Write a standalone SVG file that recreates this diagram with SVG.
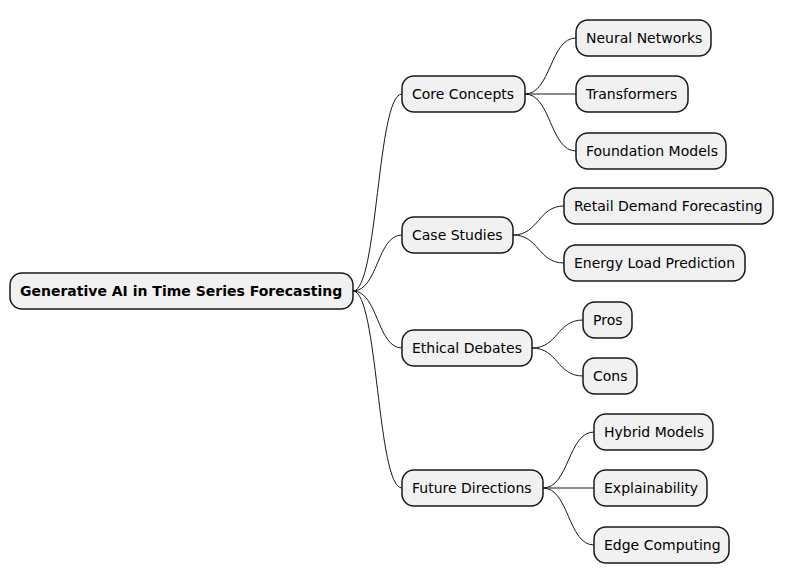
<svg xmlns="http://www.w3.org/2000/svg" width="793" height="582" viewBox="0 0 793 582">
<style>
rect{fill:#F1F1F1;stroke:#181818;stroke-width:1.5}
text{font-family:"DejaVu Sans",sans-serif;font-size:14px;fill:#000}
.b{font-weight:bold}
#c path{fill:none;stroke:#181818;stroke-width:1}
</style>
<rect width="793" height="582" style="fill:#fff;stroke:none"/>
<g id="c">
<path d="M353 291 C378 291 377 94 402 94"/>
<path d="M353 291 C378 291 377 235 402 235"/>
<path d="M353 291 C378 291 377 348 402 348"/>
<path d="M353 291 C378 291 377 488 402 488"/>
<path d="M525 94 C551 94 550 38 576 38"/>
<path d="M525 94 L576 94"/>
<path d="M525 94 C551 94 550 151 576 151"/>
<path d="M513 235 C539 235 538 206 564 206"/>
<path d="M513 235 C539 235 538 263 564 263"/>
<path d="M532 348 C558 348 557 320 583 320"/>
<path d="M532 348 C558 348 557 376 583 376"/>
<path d="M543 488 C569 488 568 432 594 432"/>
<path d="M543 488 L594 488"/>
<path d="M543 488 C569 488 568 545 594 545"/>
</g>
<g id="root"><rect x="10" y="273" width="343" height="36" rx="12"/><text class="b" x="20" y="296">Generative AI in Time Series Forecasting</text></g>
<g id="core"><rect x="402" y="76" width="123" height="36" rx="12"/><text x="412" y="99">Core Concepts</text></g>
<g id="case"><rect x="402" y="217" width="111" height="36" rx="12"/><text x="412" y="240">Case Studies</text></g>
<g id="eth"><rect x="402" y="330" width="130" height="36" rx="12"/><text x="412" y="353">Ethical Debates</text></g>
<g id="fut"><rect x="402" y="470" width="141" height="36" rx="12"/><text x="412" y="493">Future Directions</text></g>
<g id="nn"><rect x="576" y="20" width="135" height="36" rx="12"/><text x="586" y="43">Neural Networks</text></g>
<g id="tr"><rect x="576" y="76" width="112" height="36" rx="12"/><text x="586" y="99">Transformers</text></g>
<g id="fm"><rect x="576" y="133" width="150" height="36" rx="12"/><text x="586" y="156">Foundation Models</text></g>
<g id="rdf"><rect x="564" y="188" width="209" height="36" rx="12"/><text x="574" y="211">Retail Demand Forecasting</text></g>
<g id="elp"><rect x="564" y="245" width="181" height="36" rx="12"/><text x="574" y="268">Energy Load Prediction</text></g>
<g id="pros"><rect x="583" y="302" width="49" height="36" rx="12"/><text x="593" y="325">Pros</text></g>
<g id="cons"><rect x="583" y="358" width="54" height="36" rx="12"/><text x="593" y="381">Cons</text></g>
<g id="hm"><rect x="594" y="414" width="119" height="36" rx="12"/><text x="604" y="437">Hybrid Models</text></g>
<g id="ex"><rect x="594" y="470" width="113" height="36" rx="12"/><text x="604" y="493">Explainability</text></g>
<g id="ec"><rect x="594" y="527" width="135" height="36" rx="12"/><text x="604" y="550">Edge Computing</text></g>
</svg>
